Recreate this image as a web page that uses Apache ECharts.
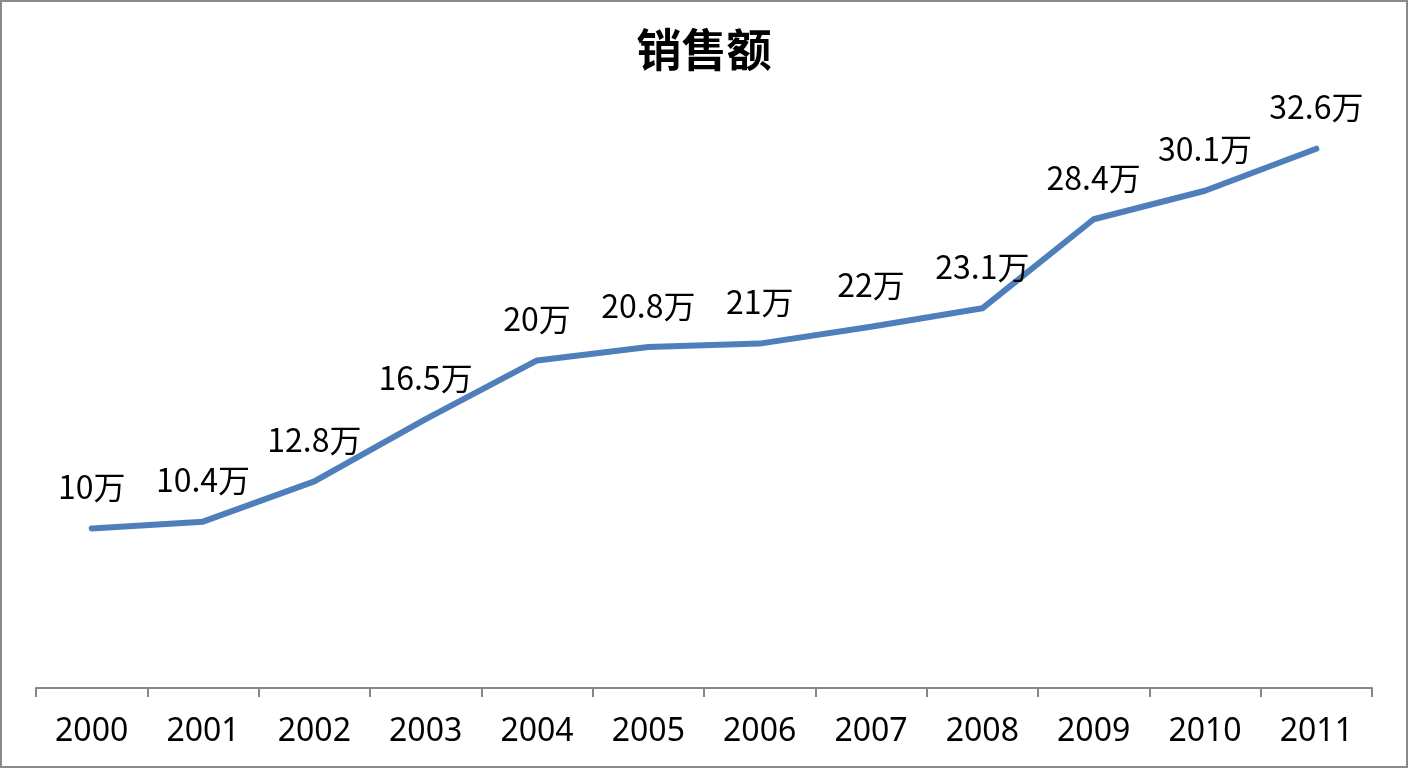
<!DOCTYPE html>
<html>
<head>
<meta charset="utf-8">
<title>销售额</title>
<script src="https://cdn.jsdelivr.net/npm/echarts@6/dist/echarts.min.js"></script>
<style>
  html, body { margin: 0; padding: 0; background: #fff; }
  #main {
    width: 1408px;
    height: 768px;
    box-sizing: border-box;
    border: 2px solid #8a8a8a;
  }
</style>
</head>
<body>
<div id="main"></div>
<script>
  // 年份与销售额（万）
  var years = ['2000', '2001', '2002', '2003', '2004', '2005',
               '2006', '2007', '2008', '2009', '2010', '2011'];
  var sales = [10, 10.4, 12.8, 16.5, 20, 20.8, 21, 22, 23.1, 28.4, 30.1, 32.6];

  var myChart = echarts.init(document.getElementById('main'));

  var option = {
    backgroundColor: '#fff',
    animation: false,
    title: {
      text: '销售额',
      left: 'center',
      top: 20,
      textStyle: {
        fontFamily: 'Noto Sans CJK SC',
        fontSize: 45,
        fontWeight: 'bold',
        color: '#000'
      }
    },
    grid: {
      left: 34,
      right: 34,
      top: 14,
      bottom: 78
    },
    xAxis: {
      type: 'category',
      data: years,
      boundaryGap: true,
      axisLine: {
        lineStyle: { color: '#878787', width: 2 }
      },
      axisTick: {
        show: true,
        length: 9,
        lineStyle: { color: '#878787', width: 2 }
      },
      axisLabel: {
        margin: 28,
        fontFamily: 'Noto Sans',
        fontSize: 32,
        color: '#000'
      },
      splitLine: { show: false }
    },
    yAxis: {
      type: 'value',
      show: false,
      min: 0.5,
      max: 40.5,
      splitLine: { show: false }
    },
    series: [
      {
        name: '销售额',
        type: 'line',
        data: sales,
        symbol: 'circle',
        symbolSize: 1,
        showAllSymbol: true,
        itemStyle: { color: '#4f7fba' },
        lineStyle: {
          color: '#4f7fba',
          width: 6,
          cap: 'round',
          join: 'round'
        },
        label: {
          show: true,
          position: 'top',
          distance: 25,
          fontFamily: 'Noto Sans CJK SC',
          fontSize: 32,
          color: '#000',
          formatter: function (p) {
            return p.value + '万';
          }
        }
      }
    ]
  };
  myChart.setOption(option);
</script>
</body>
</html>
